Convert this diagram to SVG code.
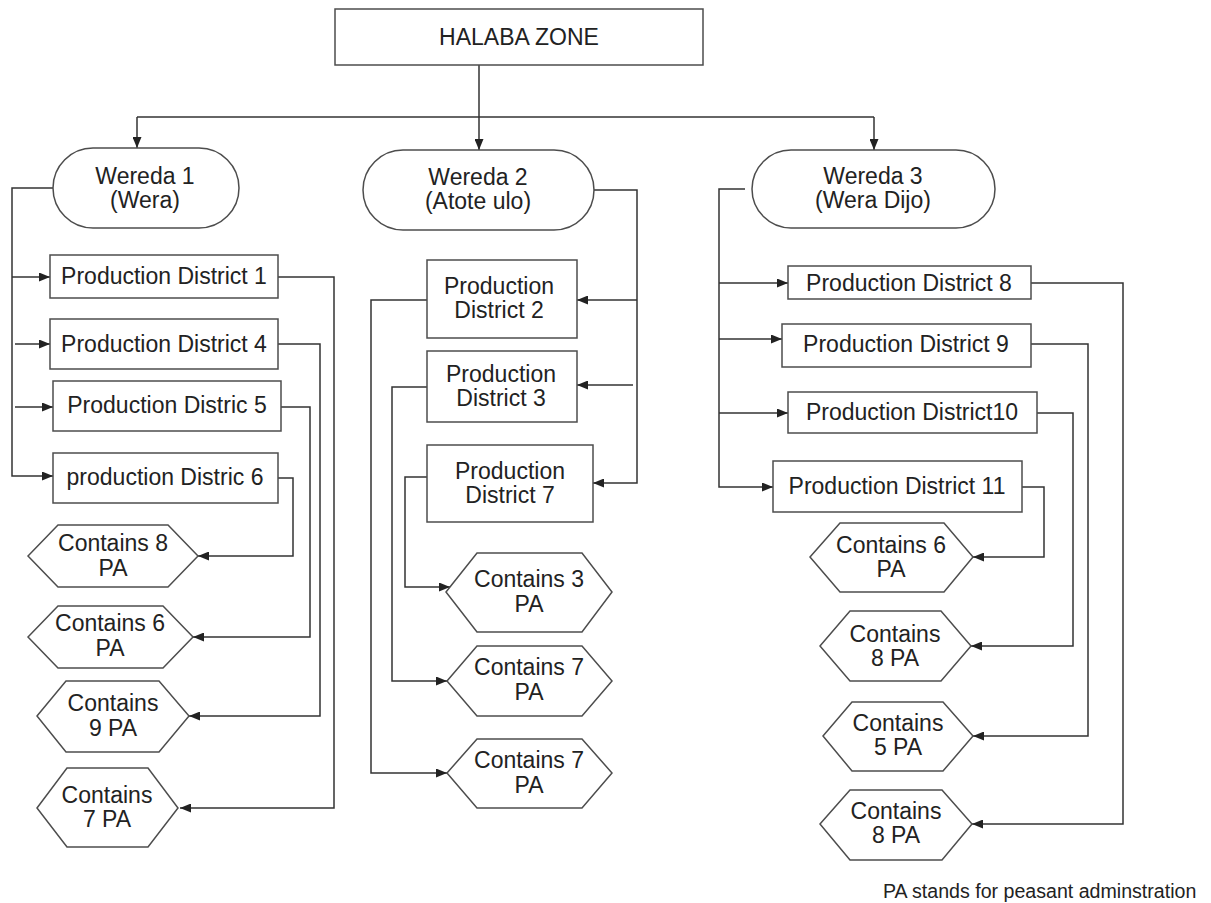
<svg xmlns="http://www.w3.org/2000/svg" width="1211" height="903" viewBox="0 0 1211 903">
  <style>
    .box { fill: #ffffff; stroke: #4d4d4d; stroke-width: 1.5; }
    .lbl { font-family: "Liberation Sans", Arial, sans-serif; font-size: 23px; fill: #222222; text-anchor: middle; }
    .note { font-family: "Liberation Sans", Arial, sans-serif; font-size: 19.6px; fill: #222222; }
    .wire { fill: none; stroke: #333333; stroke-width: 1.5; }
    .wire.arr { marker-end: url(#head); }
  </style>
  <defs>
    <marker id="head" markerUnits="userSpaceOnUse" markerWidth="11" markerHeight="9" refX="11" refY="4.5" orient="auto">
      <path d="M0,0 L11,4.5 L0,9 z" fill="#222222"/>
    </marker>
  </defs>
  <rect width="1211" height="903" fill="#ffffff"/>

  <!-- connectors -->
  <g id="connectors">
    <path class="wire arr" d="M479,65 V150"/>
    <path class="wire" d="M137,117 H874"/>
    <path class="wire arr" d="M137,117 V148"/>
    <path class="wire arr" d="M874,117 V150"/>

    <!-- Wereda 1 branch -->
    <path class="wire arr" d="M53,188 H12 V476 H53"/>
    <path class="wire arr" d="M12,277 H50"/>
    <path class="wire arr" d="M15,344 H50"/>
    <path class="wire arr" d="M15,407 H53"/>
    <path class="wire arr" d="M278,277 H334 V808 H180"/>
    <path class="wire arr" d="M278,344 H320 V716 H189"/>
    <path class="wire arr" d="M281,407 H310 V637 H193"/>
    <path class="wire arr" d="M278,478 H293 V556 H198"/>

    <!-- Wereda 2 branch -->
    <path class="wire arr" d="M594,190 H637 V483 H593"/>
    <path class="wire arr" d="M637,300 H577"/>
    <path class="wire arr" d="M633,385 H577"/>
    <path class="wire arr" d="M427,300 H371 V773 H447"/>
    <path class="wire arr" d="M427,387 H392 V681 H447"/>
    <path class="wire arr" d="M427,477 H405 V587 H450"/>

    <!-- Wereda 3 branch -->
    <path class="wire arr" d="M745,189 H719 V487 H773"/>
    <path class="wire arr" d="M719,283 H788"/>
    <path class="wire arr" d="M719,339 H782"/>
    <path class="wire arr" d="M719,413 H788"/>
    <path class="wire arr" d="M1031,283 H1123 V824 H972"/>
    <path class="wire arr" d="M1031,344 H1088 V736 H973"/>
    <path class="wire arr" d="M1037,413 H1073 V646 H971"/>
    <path class="wire arr" d="M1022,487 H1044 V557 H973"/>
  </g>

  <!-- zone -->
  <g id="zone">
    <rect class="box" x="335" y="9" width="368" height="56"/>
    <text class="lbl" x="519" y="45">HALABA ZONE</text>
  </g>

  <!-- weredas -->
  <g id="wereda1">
    <rect class="box" x="53" y="148" width="186" height="80" rx="40" ry="40"/>
    <text class="lbl" x="145" y="184">Wereda 1</text>
    <text class="lbl" x="145" y="208">(Wera)</text>
  </g>
  <g id="wereda2">
    <rect class="box" x="363" y="150" width="231" height="80" rx="40" ry="40"/>
    <text class="lbl" x="478" y="185">Wereda 2</text>
    <text class="lbl" x="478" y="209">(Atote ulo)</text>
  </g>
  <g id="wereda3">
    <rect class="box" x="752" y="150" width="243" height="78" rx="39" ry="39"/>
    <text class="lbl" x="873" y="184">Wereda 3</text>
    <text class="lbl" x="873" y="208">(Wera Dijo)</text>
  </g>

  <!-- Wereda 1 districts -->
  <g id="pd1">
    <rect class="box" x="50" y="255" width="228" height="43"/>
    <text class="lbl" x="164" y="284">Production District 1</text>
  </g>
  <g id="pd4">
    <rect class="box" x="50" y="319" width="228" height="50"/>
    <text class="lbl" x="164" y="352">Production District 4</text>
  </g>
  <g id="pd5">
    <rect class="box" x="53" y="381" width="228" height="50"/>
    <text class="lbl" x="167" y="413">Production Distric 5</text>
  </g>
  <g id="pd6">
    <rect class="box" x="53" y="453" width="225" height="50"/>
    <text class="lbl" x="165" y="485">production Distric 6</text>
  </g>

  <!-- Wereda 1 PA counts -->
  <g id="pa-w1-a">
    <polygon class="box" points="28,556 58,525 168,525 198,556 168,587 58,587"/>
    <text class="lbl" x="113" y="551">Contains 8</text>
    <text class="lbl" x="113" y="576">PA</text>
  </g>
  <g id="pa-w1-b">
    <polygon class="box" points="28,637 58,606 163,606 193,637 163,668 58,668"/>
    <text class="lbl" x="110" y="631">Contains 6</text>
    <text class="lbl" x="110" y="656">PA</text>
  </g>
  <g id="pa-w1-c">
    <polygon class="box" points="37,716 66,681 159,681 189,716 159,752 66,752"/>
    <text class="lbl" x="113" y="711">Contains</text>
    <text class="lbl" x="113" y="736">9 PA</text>
  </g>
  <g id="pa-w1-d">
    <polygon class="box" points="37,808 67,768 148,768 178,808 148,847 67,847"/>
    <text class="lbl" x="107" y="803">Contains</text>
    <text class="lbl" x="107" y="827">7 PA</text>
  </g>

  <!-- Wereda 2 districts -->
  <g id="pd2">
    <rect class="box" x="427" y="260" width="150" height="78"/>
    <text class="lbl" x="499" y="294">Production</text>
    <text class="lbl" x="499" y="318">District 2</text>
  </g>
  <g id="pd3">
    <rect class="box" x="427" y="351" width="150" height="71"/>
    <text class="lbl" x="501" y="382">Production</text>
    <text class="lbl" x="501" y="406">District 3</text>
  </g>
  <g id="pd7">
    <rect class="box" x="427" y="445" width="166" height="77"/>
    <text class="lbl" x="510" y="479">Production</text>
    <text class="lbl" x="510" y="503">District 7</text>
  </g>

  <!-- Wereda 2 PA counts -->
  <g id="pa-w2-a">
    <polygon class="box" points="446,592 477,553 582,553 612,592 582,632 477,632"/>
    <text class="lbl" x="529" y="587">Contains 3</text>
    <text class="lbl" x="529" y="612">PA</text>
  </g>
  <g id="pa-w2-b">
    <polygon class="box" points="447,681 477,646 582,646 612,681 582,716 477,716"/>
    <text class="lbl" x="529" y="675">Contains 7</text>
    <text class="lbl" x="529" y="700">PA</text>
  </g>
  <g id="pa-w2-c">
    <polygon class="box" points="447,773 477,739 582,739 612,773 582,808 477,808"/>
    <text class="lbl" x="529" y="768">Contains 7</text>
    <text class="lbl" x="529" y="793">PA</text>
  </g>

  <!-- Wereda 3 districts -->
  <g id="pd8">
    <rect class="box" x="788" y="266" width="243" height="33"/>
    <text class="lbl" x="909" y="291">Production District 8</text>
  </g>
  <g id="pd9">
    <rect class="box" x="782" y="324" width="249" height="43"/>
    <text class="lbl" x="906" y="352">Production District 9</text>
  </g>
  <g id="pd10">
    <rect class="box" x="788" y="392" width="249" height="41"/>
    <text class="lbl" x="912" y="420">Production District10</text>
  </g>
  <g id="pd11">
    <rect class="box" x="773" y="461" width="249" height="51"/>
    <text class="lbl" x="897" y="494">Production District 11</text>
  </g>

  <!-- Wereda 3 PA counts -->
  <g id="pa-w3-a">
    <polygon class="box" points="810,557 840,523 944,523 973,557 944,592 840,592"/>
    <text class="lbl" x="891" y="553">Contains 6</text>
    <text class="lbl" x="891" y="577">PA</text>
  </g>
  <g id="pa-w3-b">
    <polygon class="box" points="820,646 850,611 941,611 971,646 941,681 850,681"/>
    <text class="lbl" x="895" y="642">Contains</text>
    <text class="lbl" x="895" y="666">8 PA</text>
  </g>
  <g id="pa-w3-c">
    <polygon class="box" points="823,736 852,702 943,702 973,736 943,771 852,771"/>
    <text class="lbl" x="898" y="731">Contains</text>
    <text class="lbl" x="898" y="755">5 PA</text>
  </g>
  <g id="pa-w3-d">
    <polygon class="box" points="820,824 850,790 942,790 972,824 942,860 850,860"/>
    <text class="lbl" x="896" y="819">Contains</text>
    <text class="lbl" x="896" y="843">8 PA</text>
  </g>

  <text class="note" x="883" y="898">PA stands for peasant adminstration</text>
</svg>
